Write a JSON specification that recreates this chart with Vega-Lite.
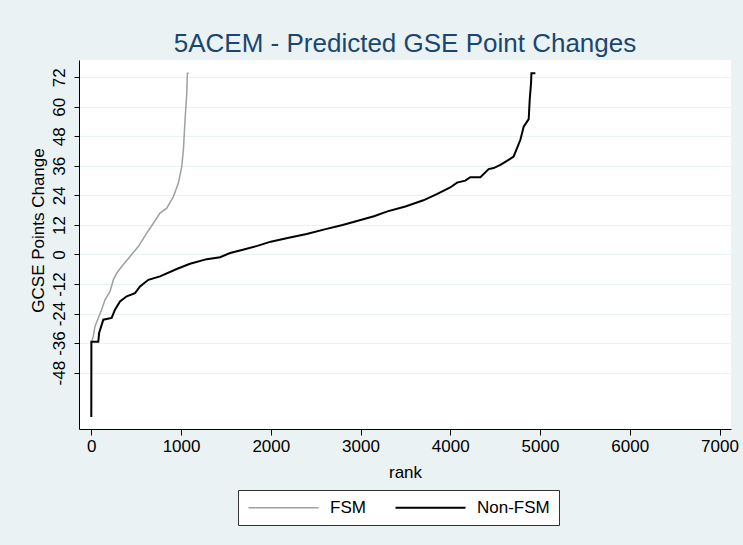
{
  "$schema": "https://vega.github.io/schema/vega-lite/v6.json",
  "autosize": "none",
  "width": 652,
  "height": 369,
  "padding": {"left": 79, "top": 60, "right": 12, "bottom": 116},
  "background": "#EAF2F3",
  "view": {"fill": "white", "stroke": null},
  "title": {
    "text": "5ACEM - Predicted GSE Point Changes",
    "fontSize": 26,
    "font": "Liberation Sans",
    "fontWeight": "normal",
    "color": "#1A476F",
    "anchor": "middle",
    "frame": "group",
    "baseline": "alphabetic",
    "offset": 7,
    "dy": 25
  },
  "data": {
    "values": [
      {"g": "FSM", "rank": 0, "v": -36},
      {"g": "FSM", "rank": 22, "v": -33.3},
      {"g": "FSM", "rank": 41, "v": -29.2},
      {"g": "FSM", "rank": 78, "v": -25.8},
      {"g": "FSM", "rank": 116, "v": -22.4},
      {"g": "FSM", "rank": 153, "v": -18.4},
      {"g": "FSM", "rank": 209, "v": -15},
      {"g": "FSM", "rank": 246, "v": -10.3},
      {"g": "FSM", "rank": 283, "v": -7.6},
      {"g": "FSM", "rank": 339, "v": -4.9},
      {"g": "FSM", "rank": 432, "v": -0.8},
      {"g": "FSM", "rank": 524, "v": 3.2},
      {"g": "FSM", "rank": 618, "v": 8.7},
      {"g": "FSM", "rank": 692, "v": 12.7},
      {"g": "FSM", "rank": 766, "v": 16.8},
      {"g": "FSM", "rank": 841, "v": 18.8},
      {"g": "FSM", "rank": 915, "v": 23.5},
      {"g": "FSM", "rank": 970, "v": 29.0},
      {"g": "FSM", "rank": 1008, "v": 35.7},
      {"g": "FSM", "rank": 1026, "v": 42.5},
      {"g": "FSM", "rank": 1045, "v": 54.7},
      {"g": "FSM", "rank": 1064, "v": 65.5},
      {"g": "FSM", "rank": 1071, "v": 73.6},
      {"g": "FSM", "rank": 1085, "v": 73.6},
      {"g": "Non-FSM", "rank": 0, "v": -66},
      {"g": "Non-FSM", "rank": 1, "v": -35.5},
      {"g": "Non-FSM", "rank": 78, "v": -35.5},
      {"g": "Non-FSM", "rank": 87, "v": -31.9},
      {"g": "Non-FSM", "rank": 134, "v": -26.5},
      {"g": "Non-FSM", "rank": 227, "v": -25.8},
      {"g": "Non-FSM", "rank": 264, "v": -22.4},
      {"g": "Non-FSM", "rank": 320, "v": -19.1},
      {"g": "Non-FSM", "rank": 395, "v": -17},
      {"g": "Non-FSM", "rank": 487, "v": -15.7},
      {"g": "Non-FSM", "rank": 543, "v": -13},
      {"g": "Non-FSM", "rank": 636, "v": -10.3},
      {"g": "Non-FSM", "rank": 766, "v": -8.9},
      {"g": "Non-FSM", "rank": 952, "v": -5.9},
      {"g": "Non-FSM", "rank": 1100, "v": -3.8},
      {"g": "Non-FSM", "rank": 1287, "v": -1.9},
      {"g": "Non-FSM", "rank": 1435, "v": -1.1},
      {"g": "Non-FSM", "rank": 1547, "v": 0.6},
      {"g": "Non-FSM", "rank": 1700, "v": 2.0},
      {"g": "Non-FSM", "rank": 1850, "v": 3.5},
      {"g": "Non-FSM", "rank": 2000, "v": 5.2},
      {"g": "Non-FSM", "rank": 2200, "v": 6.8},
      {"g": "Non-FSM", "rank": 2400, "v": 8.3},
      {"g": "Non-FSM", "rank": 2600, "v": 10.2},
      {"g": "Non-FSM", "rank": 2800, "v": 12.0},
      {"g": "Non-FSM", "rank": 3000, "v": 14.0},
      {"g": "Non-FSM", "rank": 3150, "v": 15.5},
      {"g": "Non-FSM", "rank": 3300, "v": 17.5},
      {"g": "Non-FSM", "rank": 3500, "v": 19.5},
      {"g": "Non-FSM", "rank": 3700, "v": 22.0},
      {"g": "Non-FSM", "rank": 3850, "v": 24.5},
      {"g": "Non-FSM", "rank": 3999, "v": 27.2},
      {"g": "Non-FSM", "rank": 4075, "v": 29.2},
      {"g": "Non-FSM", "rank": 4167, "v": 30.0},
      {"g": "Non-FSM", "rank": 4223, "v": 31.4},
      {"g": "Non-FSM", "rank": 4335, "v": 31.4},
      {"g": "Non-FSM", "rank": 4428, "v": 34.7},
      {"g": "Non-FSM", "rank": 4483, "v": 35.1},
      {"g": "Non-FSM", "rank": 4558, "v": 36.4},
      {"g": "Non-FSM", "rank": 4632, "v": 38.0},
      {"g": "Non-FSM", "rank": 4706, "v": 39.8},
      {"g": "Non-FSM", "rank": 4744, "v": 43.2},
      {"g": "Non-FSM", "rank": 4781, "v": 46.6},
      {"g": "Non-FSM", "rank": 4818, "v": 51.9},
      {"g": "Non-FSM", "rank": 4874, "v": 55.0},
      {"g": "Non-FSM", "rank": 4885, "v": 62.8},
      {"g": "Non-FSM", "rank": 4900, "v": 69.6},
      {"g": "Non-FSM", "rank": 4904, "v": 73.6},
      {"g": "Non-FSM", "rank": 4948, "v": 73.6}
    ]
  },
  "mark": {"type": "line", "interpolate": "linear", "strokeJoin": "miter"},
  "encoding": {
    "x": {
      "field": "rank",
      "type": "quantitative",
      "scale": {"domain": [-137, 7128], "nice": false, "zero": false},
      "axis": {
        "title": "rank",
        "values": [0, 1000, 2000, 3000, 4000, 5000, 6000, 7000],
        "format": "d",
        "grid": false,
        "tickSize": 6,
        "labelPadding": 3,
        "labelFontSize": 17,
        "titleFontSize": 17,
        "titleBaseline": "alphabetic",
        "titleY": 48,
        "labelOverlap": false
      }
    },
    "y": {
      "field": "v",
      "type": "quantitative",
      "scale": {"domain": [-70.9, 79.0], "nice": false, "zero": false},
      "axis": {
        "title": "GCSE Points Change",
        "values": [-48, -36, -24, -12, 0, 12, 24, 36, 48, 60, 72],
        "labelExpr": "'' + datum.value",
        "grid": true,
        "tickSize": 5,
        "labelAngle": 270,
        "labelAlign": "center",
        "labelBaseline": "bottom",
        "labelPadding": 6,
        "labelFontSize": 17,
        "labelOverlap": false,
        "titleFontSize": 17,
        "titleAngle": 270,
        "titleAlign": "center",
        "titleBaseline": "middle",
        "titleX": -41,
        "titleY": 170
      }
    },
    "color": {
      "field": "g",
      "type": "nominal",
      "scale": {"domain": ["FSM", "Non-FSM"], "range": ["#A0A0A0", "#000000"]},
      "legend": {
        "title": null,
        "orient": "none",
        "legendX": 159,
        "legendY": 430,
        "direction": "horizontal",
        "symbolType": "M-1,0H9",
        "symbolSize": 196,
        "symbolStrokeWidth": 1.5,
        "labelFontSize": 17,
        "labelOffset": 66,
        "columnPadding": 25,
        "padding": 9,
        "fillColor": "white",
        "strokeColor": "#333333"
      }
    },
    "strokeWidth": {
      "field": "g",
      "type": "nominal",
      "scale": {"domain": ["FSM", "Non-FSM"], "range": [1.5, 2]},
      "legend": null
    }
  },
  "config": {
    "font": "Liberation Sans",
    "axis": {
      "domainColor": "#000000",
      "tickColor": "#000000",
      "labelColor": "#000000",
      "titleColor": "#000000",
      "titleFontWeight": "normal",
      "gridColor": "#EAF2F3",
      "gridWidth": 1,
      "domainWidth": 1
    },
    "legend": {"labelColor": "#000000"}
  }
}
